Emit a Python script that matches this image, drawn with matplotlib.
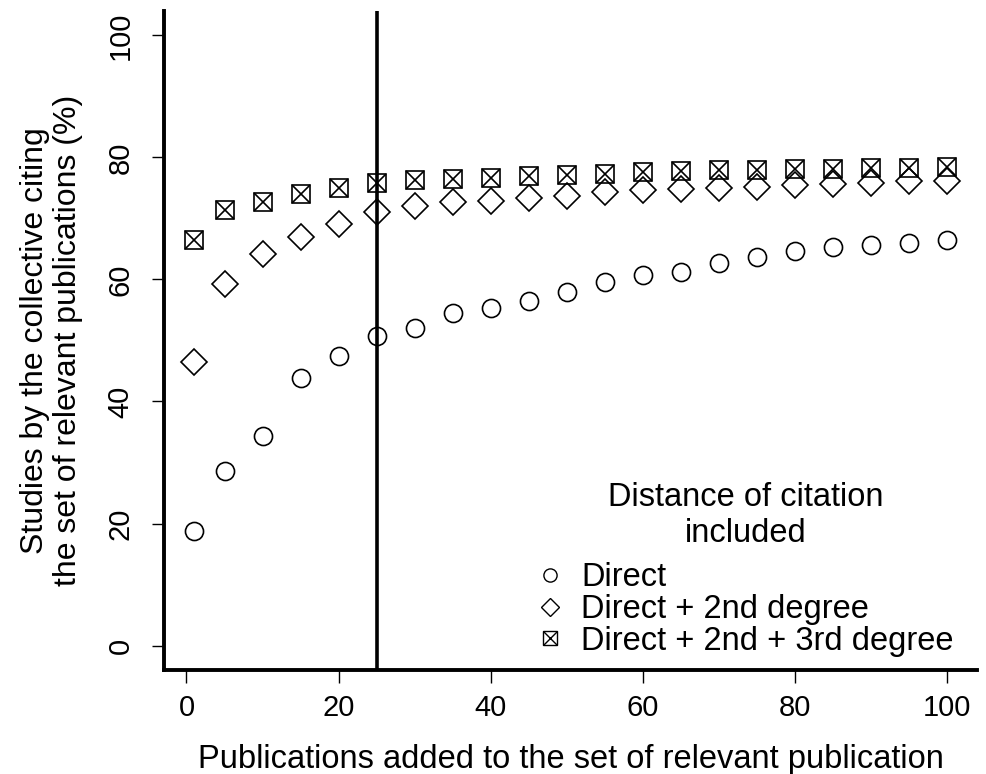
import numpy as np
import matplotlib.pyplot as plt
from matplotlib.lines import Line2D

plt.rcParams['font.family'] = ['Liberation Sans', 'DejaVu Sans']

# Publications added to the set, and % of studies reached
added = [1, 5, 10, 15, 20, 25, 30, 35, 40, 45, 50,
         55, 60, 65, 70, 75, 80, 85, 90, 95, 100]
direct = [18.7, 28.6, 34.4, 43.8, 47.5, 50.7, 52.0, 54.5, 55.4, 56.4, 58.0,
          59.6, 60.8, 61.3, 62.7, 63.6, 64.6, 65.3, 65.7, 65.9, 66.4]
second = [46.4, 59.3, 64.2, 66.9, 69.1, 71.0, 72.0, 72.7, 72.8, 73.3, 73.7,
          74.3, 74.7, 74.9, 75.0, 75.2, 75.4, 75.7, 75.8, 76.1, 76.2]
third = [66.5, 71.4, 72.7, 74.0, 75.0, 75.8, 76.3, 76.5, 76.7, 76.9, 77.2,
         77.3, 77.6, 77.8, 77.9, 78.0, 78.1, 78.1, 78.3, 78.3, 78.4]
cutoff = 25
labels = ['Direct', 'Direct + 2nd degree', 'Direct + 2nd + 3rd degree']
legend_title = 'Distance of citation\nincluded'

fs_tick = 21
fs = 23.5
ms = 13
mew = 1.2

fig = plt.figure(figsize=(9.86, 7.74), dpi=100)
ax = fig.add_axes([0.1663, 0.1344, 0.8246, 0.8514])

ax.plot(added, direct, 'o', ms=ms, mfc='none', mec='black', mew=mew)
ax.plot(added, second, 'D', ms=ms * 1.05, mfc='none', mec='black', mew=mew)
ax.plot(added, third, 's', ms=ms * 1.05, mfc='none', mec='black', mew=mew)
ax.plot(added, third, 'x', ms=ms * 1.05, mec='black', mew=mew)

ax.axvline(cutoff, color='black', lw=2.6, zorder=5)

ax.set_xlim(-2.96, 103.96)
ax.set_ylim(-4, 104)
ax.set_xticks(np.arange(0, 101, 20))
ax.set_yticks(np.arange(0, 101, 20))
ax.set_yticklabels([str(v) for v in range(0, 101, 20)], rotation=90, va='center')

for s in ['top', 'right']:
    ax.spines[s].set_visible(False)
for s in ['left', 'bottom']:
    ax.spines[s].set_linewidth(2.8)
ax.tick_params(length=9, width=1, labelsize=fs_tick, pad=8)
ax.tick_params(axis='y', pad=12)

ax.set_xlabel('Publications added to the set of relevant publication', fontsize=fs, labelpad=16)
ax.set_ylabel('Studies by the collective citing\nthe set of relevant publications (%)',
              fontsize=23, labelpad=17, linespacing=1.14)

# legend: title as separate text so the gap under it can match
ax.text(0.715, 0.1942, legend_title, transform=ax.transAxes, fontsize=fs,
        ha='center', va='baseline', multialignment='center')

h1 = Line2D([], [], ls='none', marker='o', ms=9.5, mfc='none', mec='black', mew=1)
h2 = Line2D([], [], ls='none', marker='D', ms=9.2, mfc='none', mec='black', mew=1)
h3a = Line2D([], [], ls='none', marker='s', ms=9.4, mfc='none', mec='black', mew=1)
h3b = Line2D([], [], ls='none', marker='x', ms=9.4, mec='black', mew=1)
leg = ax.legend([h1, h2, (h3a, h3b)], labels,
                loc='lower left', bbox_to_anchor=(0.455, 0.02),
                frameon=False, fontsize=fs,
                handlelength=1.0, handletextpad=0.45, labelspacing=0.02,
                borderpad=0, borderaxespad=0)

fig.savefig('out.png', dpi=100)
